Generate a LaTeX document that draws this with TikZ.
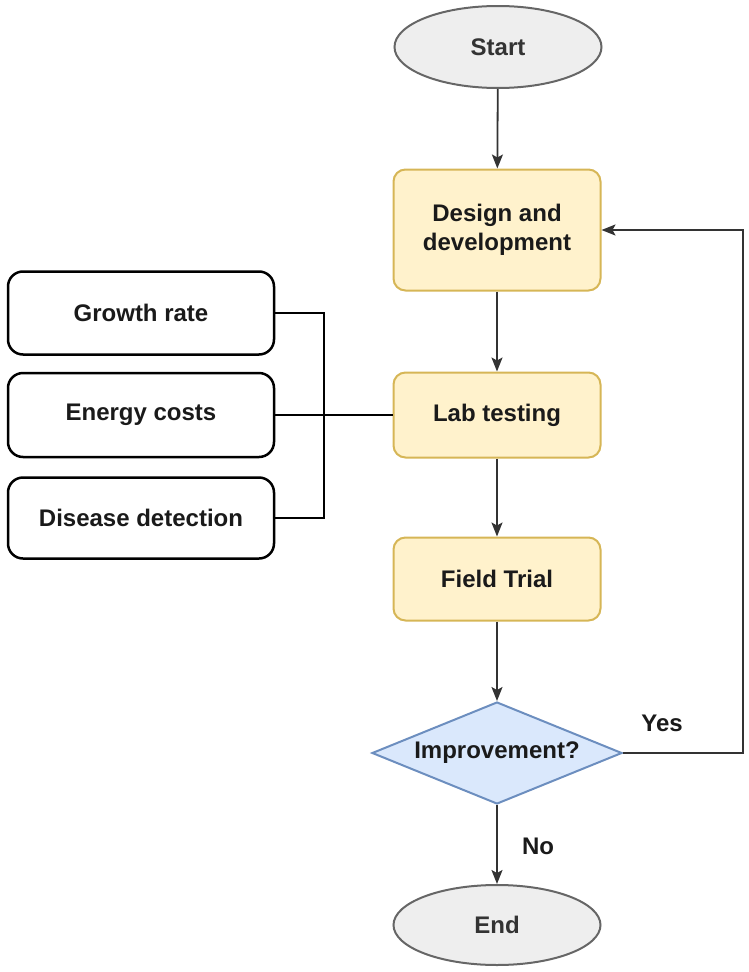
\documentclass[tikz,border=0pt]{standalone}
\usepackage{fontspec}
\setmainfont{Liberation Sans}
\usetikzlibrary{shapes.geometric,arrows.meta}
\definecolor{termfill}{HTML}{EEEEEE}
\definecolor{termdraw}{HTML}{666666}
\definecolor{procfill}{HTML}{FFF2CC}
\definecolor{procdraw}{HTML}{D6B656}
\definecolor{decfill}{HTML}{DAE8FC}
\definecolor{decdraw}{HTML}{6C8EBF}
\definecolor{linecol}{HTML}{333333}
\definecolor{txt}{HTML}{1A1A1A}
\tikzset{
  lbl/.style={font=\fontsize{24}{29}\selectfont\bfseries, text=txt, align=center, inner sep=0},
  term/.style={lbl, ellipse, fill=termfill, draw=termdraw, line width=2pt, text=linecol, minimum width=207, minimum height=82},
  proc/.style={lbl, rectangle, rounded corners=12pt, fill=procfill, draw=procdraw, line width=2pt, minimum width=207},
  metric/.style={lbl, rectangle, rounded corners=15pt, fill=white, draw=black, line width=2.5pt, minimum width=266},
  dec/.style={lbl, diamond, aspect=2.45, fill=decfill, draw=decdraw, line width=2pt, minimum width=250, minimum height=102},
  flow/.style={draw=linecol, line width=1.8pt, -{Stealth[length=14pt,width=11pt,inset=3pt]}},
  link/.style={draw=black, line width=2.5pt}
}
\begin{document}
\begin{tikzpicture}[x=1pt,y=-1pt]
\useasboundingbox (0,0) rectangle (749,972);
\node[term] (start) at (498,47) {Start};
\node[proc, minimum height=121] (design) at (497,230) {Design and\\development};
\node[proc, minimum height=85] (lab) at (497,415) {Lab testing};
\node[proc, minimum height=83] (field) at (497,579) {Field Trial};
\node[dec] (dec) at (497,753) {Improvement?};
\node[term, minimum height=80] (end) at (497,925) {End};

\node[metric, minimum height=83] (gr) at (141,313) {Growth rate};
\node[metric, minimum height=84] (ec) at (141,415) {Energy costs};
\node[metric, minimum height=81] (dd) at (141,518) {Disease detection};

\coordinate (busx) at (324,0);
\coordinate (loopx) at (743,0);

\draw[flow] (start) -- (design);
\draw[flow] (design) -- (lab);
\draw[flow] (lab) -- (field);
\draw[flow] (field) -- (dec);
\draw[flow] (dec) -- (end);
\draw[flow] (dec.east) -- (dec.east -| loopx) |- (design.east);

\draw[link] (gr.east) -- (gr.east -| busx) |- (lab.west);
\draw[link] (dd.east) -- (dd.east -| busx) |- (lab.west);
\draw[link] (ec.east) -- (lab.west);

\node[lbl] (yes) at (662,723) {Yes};
\node[lbl] (no) at (538,846) {No};
\end{tikzpicture}
\end{document}
